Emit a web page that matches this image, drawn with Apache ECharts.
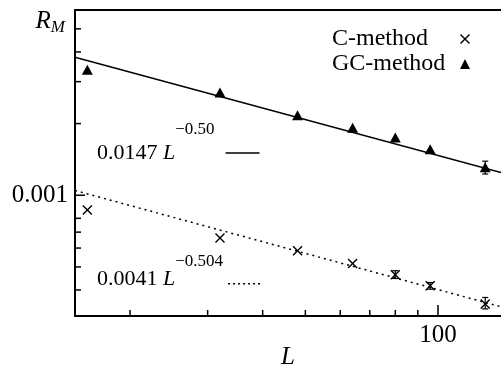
<!DOCTYPE html>
<html>
<head>
<meta charset="utf-8">
<script src="https://cdn.jsdelivr.net/npm/echarts@6/dist/echarts.min.js"></script>
<style>html,body{margin:0;padding:0;background:#fff}#c{width:501px;height:369px}</style>
</head>
<body>
<div id="c"></div>
<script>
// ---- data ----
const sizesL = [16, 32, 48, 64, 80, 96, 128];
const gcValues = [0.00337, 0.0027, 0.00217, 0.00192, 0.00175, 0.00156, 0.00131];
const cValues = [0.000867, 0.000661, 0.000584, 0.000517, 0.000463, 0.000417, 0.000349];
const cErrL = [80, 96, 128];
const cErrLow = [0.000447, 0.000403, 0.000333];
const cErrHigh = [0.000482, 0.00043, 0.000372];
const gcErrL = [128];
const gcErrLow = [0.001228];
const gcErrHigh = [0.00139];
const fitGCL = [15, 139];
const fitGCValues = [0.0038, 0.001247];
const fitCL = [15, 139];
const fitCValues = [0.001047, 0.00034];
const xTicks = [20, 30, 40, 50, 60, 70, 80, 90, 100];
const yTicks = [0.0004, 0.0005, 0.0006, 0.0007, 0.0008, 0.001, 0.002, 0.003, 0.004, 0.005];
const xMajor = [100];
const yMajor = [0.001];
const X_MIN = 15, X_MAX = 139, Y_MIN = 0.000311, Y_MAX = 0.006;

const FONT = 'Liberation Serif';
const crossPath = 'path://M1,0L5,4L9,0L10,1L6,5L10,9L9,10L5,6L1,10L0,9L4,5L0,1Z';
const solidKey = 'path://M0,0L34,0L34,1.5L0,1.5Z';
const dottedKey = 'path://' + [0, 5, 10, 15, 20, 25, 30].map(x => `M${x},0L${x + 2},0L${x + 2},1.5L${x},1.5Z`).join('');

const pairs = (xs, ys) => xs.map((x, i) => [x, ys[i]]);
const isMajor = (v, arr) => arr.some(m => Math.abs(m - v) / m < 1e-6);

const chart = echarts.init(document.getElementById('c'), null, {renderer: 'canvas'});
chart.setOption({
  animation: false,
  backgroundColor: '#fff',
  grid: {left: 75, right: 0, top: 10, bottom: 53, containLabel: false, outerBoundsMode: 'none'},
  xAxis: [{
    type: 'log', logBase: 10, min: X_MIN, max: X_MAX,
    axisLine: {show: true, lineStyle: {color: '#000', width: 2}},
    axisTick: {show: false}, splitLine: {show: false},
    axisLabel: {
      margin: 7, color: '#000', fontFamily: FONT, fontSize: 25,
      showMinLabel: false, showMaxLabel: false,
      formatter: v => isMajor(v, xMajor) ? String(Math.round(v)) : ''
    },
    name: 'L', nameLocation: 'middle', nameGap: 29, nameMoveOverlap: false,
    nameTextStyle: {fontFamily: FONT, fontStyle: 'italic', fontSize: 25, color: '#000'}
  }, {
    type: 'log', logBase: 10, min: X_MIN, max: X_MAX, position: 'top',
    axisLine: {show: true, lineStyle: {color: '#000', width: 2}},
    axisTick: {show: false}, axisLabel: {show: false}, splitLine: {show: false}
  }],
  yAxis: {
    type: 'log', logBase: 10, min: Y_MIN, max: Y_MAX,
    axisLine: {show: true, lineStyle: {color: '#000', width: 2}},
    axisTick: {show: false}, splitLine: {show: false},
    axisLabel: {
      margin: 7, color: '#000', fontFamily: FONT, fontSize: 25,
      showMinLabel: false, showMaxLabel: false,
      formatter: v => isMajor(v, yMajor) ? '0.001' : ''
    },
    name: '{r|R}{m|M}', nameLocation: 'end', nameGap: -11, nameMoveOverlap: false,
    nameTextStyle: {
      align: 'right', verticalAlign: 'middle', padding: [0, 10, 0, 0],
      rich: {
        r: {fontFamily: FONT, fontStyle: 'italic', fontSize: 25, color: '#000'},
        m: {fontFamily: FONT, fontStyle: 'italic', fontSize: 17, color: '#000', padding: [14, 0, 0, 0]}
      }
    }
  },
  legend: [{
    data: ['C-method', 'GC-method'], orient: 'vertical', align: 'right',
    left: 332, top: 27, padding: 0, itemGap: 1, itemWidth: 10, itemHeight: 10,
    selectedMode: false,
    formatter: '{a|{name}}',
    textStyle: {rich: {a: {fontFamily: FONT, fontSize: 24, color: '#000', width: 123, align: 'left', lineHeight: 26}}}
  }, {
    data: [{name: 'fitGC', icon: solidKey}], orient: 'vertical', align: 'right',
    left: 97, top: 121.5, padding: 0, itemWidth: 34, itemHeight: 1.5, selectedMode: false,
    formatter: '{n|0.0147 }{i|L}{s|\u22120.50}',
    textStyle: {rich: {
      n: {fontFamily: FONT, fontSize: 22, color: '#000', lineHeight: 24},
      i: {fontFamily: FONT, fontSize: 22, fontStyle: 'italic', color: '#000', lineHeight: 24},
      s: {fontFamily: FONT, fontSize: 17, color: '#000', lineHeight: 18, padding: [0, 6, 46, 0]}
    }}
  }, {
    data: [{name: 'fitC', icon: dottedKey}], orient: 'vertical', align: 'right',
    left: 97, top: 252.8, padding: 0, itemWidth: 32, itemHeight: 1.5, selectedMode: false,
    formatter: '{n|0.0041 }{i|L}{s|\u22120.504}',
    textStyle: {rich: {
      n: {fontFamily: FONT, fontSize: 22, color: '#000', lineHeight: 24, padding: [0, 0, 10, 0]},
      i: {fontFamily: FONT, fontSize: 22, fontStyle: 'italic', color: '#000', lineHeight: 24, padding: [0, 0, 10, 0]},
      s: {fontFamily: FONT, fontSize: 17, color: '#000', lineHeight: 18, padding: [0, 0, 45, 0]}
    }}
  }],
  series: [
    {
      name: 'fitGC', type: 'line', data: pairs(fitGCL, fitGCValues), symbol: 'none',
      lineStyle: {color: '#000', width: 1.5, type: 'solid'}, itemStyle: {color: '#000'}, z: 2
    },
    {
      name: 'fitC', type: 'line', data: pairs(fitCL, fitCValues), symbol: 'none',
      lineStyle: {color: '#000', width: 1.5, type: [2, 4]}, itemStyle: {color: '#000'}, z: 2
    },
    {
      name: 'GC-method', type: 'scatter', data: pairs(sizesL, gcValues),
      symbol: 'triangle', symbolSize: [11, 10], itemStyle: {color: '#000', opacity: 1}, z: 3
    },
    {
      name: 'C-method', type: 'scatter', data: pairs(sizesL, cValues),
      symbol: crossPath, symbolSize: 10, itemStyle: {color: '#000', opacity: 1}, z: 3
    },
    {
      name: 'errors', type: 'custom', silent: true, z: 3,
      data: cErrL.map((x, i) => [x, cErrLow[i], cErrHigh[i]]).concat(gcErrL.map((x, i) => [x, gcErrLow[i], gcErrHigh[i]])),
      encode: {x: 0, y: [1, 2]},
      renderItem: (params, api) => {
        const lo = api.coord([api.value(0), api.value(1)]);
        const hi = api.coord([api.value(0), api.value(2)]);
        const w = 3;
        const st = {stroke: '#000', lineWidth: 1.2};
        return {type: 'group', children: [
          {type: 'line', shape: {x1: lo[0], y1: lo[1], x2: hi[0], y2: hi[1]}, style: st},
          {type: 'line', shape: {x1: lo[0] - w, y1: lo[1], x2: lo[0] + w, y2: lo[1]}, style: st},
          {type: 'line', shape: {x1: hi[0] - w, y1: hi[1], x2: hi[0] + w, y2: hi[1]}, style: st}
        ]};
      }
    },
    {
      name: 'xticks', type: 'custom', silent: true, clip: false, z: 4,
      data: xTicks.map(v => [v, Y_MIN]),
      renderItem: (params, api) => {
        const p = api.coord([api.value(0), api.value(1)]);
        const len = isMajor(api.value(0), xMajor) ? 11 : 6;
        return {type: 'line', shape: {x1: p[0], y1: p[1], x2: p[0], y2: p[1] - len}, style: {stroke: '#000', lineWidth: 1.5}};
      }
    },
    {
      name: 'yticks', type: 'custom', silent: true, clip: false, z: 4,
      data: yTicks.map(v => [X_MIN, v]),
      renderItem: (params, api) => {
        const p = api.coord([api.value(0), api.value(1)]);
        const len = isMajor(api.value(1), yMajor) ? 10 : 6;
        return {type: 'line', shape: {x1: p[0], y1: p[1], x2: p[0] + len, y2: p[1]}, style: {stroke: '#000', lineWidth: 1.5}};
      }
    }
  ]
});
</script>
</body>
</html>
